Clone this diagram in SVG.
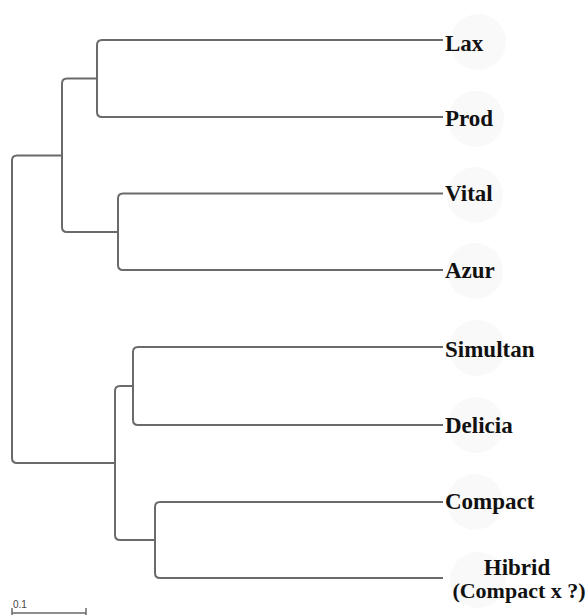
<svg xmlns="http://www.w3.org/2000/svg" width="587" height="616" viewBox="0 0 587 616">
<style>
.br{fill:none;stroke:#6a6a6a;stroke-width:2;stroke-linejoin:round}
.bg{fill:#f9f9f9}
.lb{font-family:"Liberation Serif","Times New Roman",serif;font-weight:bold;font-size:23px;fill:#111}
.sc{font-family:"Liberation Sans",Arial,sans-serif;font-size:10px;fill:#444}
</style>
<rect width="587" height="616" fill="#fff"/>
<g id="connectors">
<path class="br" d="M443 40H102Q97 40 97 45V112Q97 117 102 117H443"/>
<path class="br" d="M443 193.5H123Q118 193.5 118 198.5V265Q118 270 123 270H443"/>
<path class="br" d="M97 78.5H67Q62 78.5 62 83.5V227Q62 232 67 232H118"/>
<path class="br" d="M443 347H138Q133 347 133 352V420Q133 425 138 425H443"/>
<path class="br" d="M443 502H160Q155 502 155 507V573Q155 578 160 578H443"/>
<path class="br" d="M133 386H120Q115 386 115 391V535Q115 540 120 540H155"/>
<path class="br" d="M62 155.5H17Q12 155.5 12 160.5V458Q12 463 17 463H115"/>
</g>
<g id="scale">
<path class="br" d="M12 613H86M12 608V615M86 608V615" style="stroke-width:1.5"/>
<text class="sc" x="13" y="608">0.1</text>
</g>
<g id="n-lax"><circle class="bg" cx="478" cy="42" r="28"/><text class="lb" x="445" y="51">Lax</text></g>
<g id="n-prod"><circle class="bg" cx="476" cy="119" r="28"/><text class="lb" x="445" y="126">Prod</text></g>
<g id="n-vital"><circle class="bg" cx="475" cy="195" r="28"/><text class="lb" x="445" y="201">Vital</text></g>
<g id="n-azur"><circle class="bg" cx="475" cy="271" r="28"/><text class="lb" x="445" y="278">Azur</text></g>
<g id="n-simultan"><circle class="bg" cx="477" cy="348" r="28"/><text class="lb" x="445" y="357">Simultan</text></g>
<g id="n-delicia"><circle class="bg" cx="476" cy="425" r="28"/><text class="lb" x="445" y="433">Delicia</text></g>
<g id="n-compact"><circle class="bg" cx="475" cy="502" r="28"/><text class="lb" x="445" y="509">Compact</text></g>
<g id="n-hibrid"><circle class="bg" cx="478" cy="580" r="28"/><text class="lb" x="517" y="575" text-anchor="middle">Hibrid</text><text class="lb" x="519" y="598" text-anchor="middle" style="font-size:22px">(Compact x ?)</text></g>
</svg>
